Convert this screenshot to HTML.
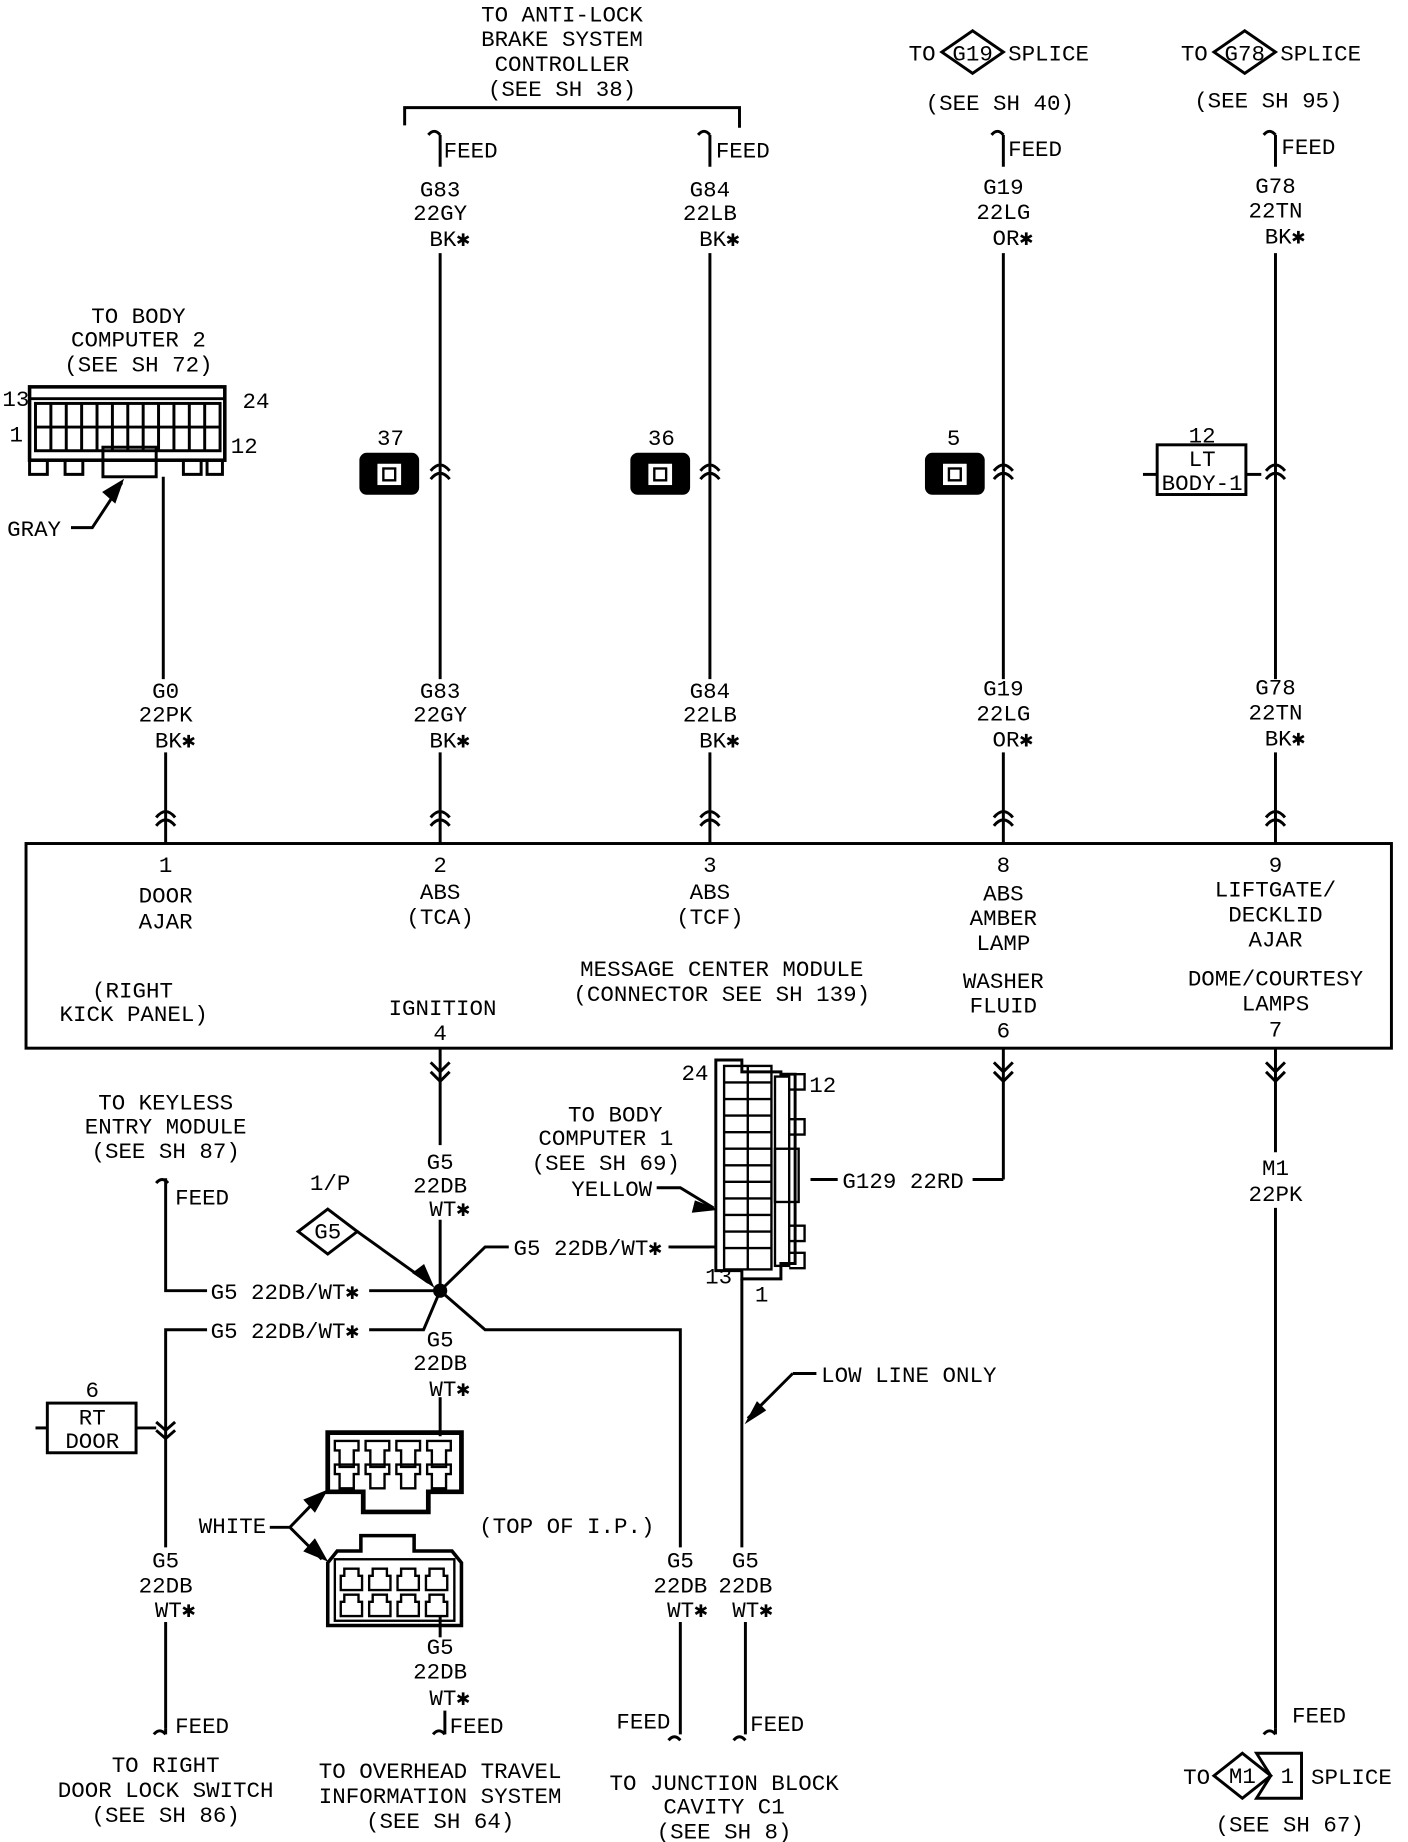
<!DOCTYPE html>
<html><head><style>
html,body{margin:0;padding:0;background:#fff;}
svg{display:block;}
text{font-family:"Liberation Mono",monospace;font-size:19px;fill:#000;}
</style></head><body>
<svg width="1408" height="1842" viewBox="0 0 1190 1557" preserveAspectRatio="none" xmlns="http://www.w3.org/2000/svg">
<g transform="translate(0,-4)">
<g fill="none" stroke="#000" stroke-width="2.5">
<polyline points="342,110 342,95 625,95 625,112"/>
<path d="M362,118 q5,-6 10,0 M372,118 V145"/>
<path d="M590,118 q5,-6 10,0 M600,118 V145"/>
<path d="M838,118 q5,-6 10,0 M848,118 V145"/>
<path d="M1068,118 q5,-6 10,0 M1078,118 V145"/>
<line x1="372" y1="218" x2="372" y2="578"/>
<line x1="600" y1="218" x2="600" y2="578"/>
<line x1="848" y1="218" x2="848" y2="578"/>
<line x1="1078" y1="218" x2="1078" y2="578"/>
<line x1="138" y1="407" x2="138" y2="578"/>
<line x1="140" y1="640" x2="140" y2="717"/>
<line x1="372" y1="640" x2="372" y2="717"/>
<line x1="600" y1="640" x2="600" y2="717"/>
<line x1="848" y1="640" x2="848" y2="717"/>
<line x1="1078" y1="640" x2="1078" y2="717"/>
<path d="M364,402 Q372,392 380,402 M364,409 Q372,399 380,409"/>
<path d="M592,402 Q600,392 608,402 M592,409 Q600,399 608,409"/>
<path d="M840,402 Q848,392 856,402 M840,409 Q848,399 856,409"/>
<path d="M1070,402 Q1078,392 1086,402 M1070,409 Q1078,399 1086,409"/>
<path d="M132,695 Q140,685 148,695 M132,702 Q140,692 148,702"/>
<path d="M364,695 Q372,685 380,695 M364,702 Q372,692 380,702"/>
<path d="M592,695 Q600,685 608,695 M592,702 Q600,692 608,702"/>
<path d="M840,695 Q848,685 856,695 M840,702 Q848,692 856,702"/>
<path d="M1070,695 Q1078,685 1086,695 M1070,702 Q1078,692 1086,702"/>
<polygon points="796,48 822,30 848,48 822,66"/>
<polygon points="1026,48 1052,30 1078,48 1052,66"/>
<rect x="22" y="717" width="1154" height="173"/>
<rect x="25" y="331" width="165" height="62" stroke-width="3"/>
<line x1="25" y1="341" x2="190" y2="341"/>
<rect x="30" y="345" width="156" height="40"/>
<line x1="30" y1="365" x2="186" y2="365"/>
<path d="M43,345V385M56,345V385M69,345V385M82,345V385M95,345V385M108,345V385M121,345V385M134,345V385M147,345V385M160,345V385M173,345V385"/>
<path d="M25,393 V405 H40 V393 M55,393 V405 H70 V393 M155,393 V405 H170 V393 M175,393 V405 H188 V393"/>
<rect x="87" y="382" width="45" height="25"/>
<path d="M60,450 H78 L103,412"/>
<rect x="305" y="388" width="48" height="33" rx="5" fill="#000"/>
<rect x="534" y="388" width="48" height="33" rx="5" fill="#000"/>
<rect x="783" y="388" width="48" height="33" rx="5" fill="#000"/>
<rect x="978" y="380" width="75" height="42"/>
<line x1="966" y1="405" x2="978" y2="405"/>
<line x1="1053" y1="405" x2="1066" y2="405"/>
<line x1="372" y1="890" x2="372" y2="972"/>
<line x1="372" y1="1035" x2="372" y2="1095"/>
<path d="M364,902 L372,910 L380,902 M364,910 L372,918 L380,910"/>
<path d="M840,902 L848,910 L856,902 M840,910 L848,918 L856,910"/>
<path d="M1070,902 L1078,910 L1086,902 M1070,910 L1078,918 L1086,910"/>
<line x1="848" y1="890" x2="848" y2="1001"/>
<line x1="822" y1="1001" x2="848" y2="1001"/>
<line x1="685" y1="1001" x2="708" y2="1001"/>
<line x1="1078" y1="890" x2="1078" y2="978"/>
<line x1="1078" y1="1025" x2="1078" y2="1465"/>
<path d="M1068,1470 q5,-6 10,0 M1078,1465 V1470"/>
<path d="M372,1095 L410,1058 H430"/>
<path d="M567,1058 H600"/>
<path d="M372,1095 H312"/>
<path d="M372,1095 L358,1128 H312"/>
<path d="M372,1095 L410,1128 H575 V1312"/>
<line x1="575" y1="1375" x2="575" y2="1470"/>
<path d="M140,1000 V1095 H175"/>
<path d="M132,1004 q5,-6 10,0"/>
<path d="M175,1128 H140 V1312"/>
<line x1="140" y1="1375" x2="140" y2="1465"/>
<path d="M130,1470 q5,-6 10,0 M140,1465V1470"/>
<path d="M132,1206 L140,1213 L148,1206 M132,1213 L140,1220 L148,1213"/>
<rect x="40" y="1190" width="75" height="42"/>
<line x1="30" y1="1211" x2="40" y2="1211"/>
<line x1="115" y1="1211" x2="132" y2="1211"/>
<polygon points="252,1045 277,1026 302,1045 277,1064"/>
<line x1="302" y1="1045" x2="362" y2="1088"/>
<line x1="372" y1="1185" x2="372" y2="1218"/>
<path d="M277,1215 H390 V1265 H362 V1282 H307 V1265 H277 Z" stroke-width="4"/>
<path d="M283,1222h20v8h-4v14h-12v-14h-4z M309,1222h20v8h-4v14h-12v-14h-4z M335,1222h20v8h-4v14h-12v-14h-4z M361,1222h20v8h-4v14h-12v-14h-4z" stroke-width="2"/>
<path d="M283,1242h20v8h-4v12h-12v-12h-4z M309,1242h20v8h-4v12h-12v-12h-4z M335,1242h20v8h-4v12h-12v-12h-4z M361,1242h20v8h-4v12h-12v-12h-4z" stroke-width="2"/>
<path d="M277,1325 L285,1315 H305 V1302 H350 V1315 H382 L390,1325 V1378 H277 Z" stroke-width="3"/>
<rect x="283" y="1322" width="101" height="52" stroke-width="2"/>
<path d="M288,1348h18v-12h-3v-6h-12v6h-3z M312,1348h18v-12h-3v-6h-12v6h-3z M336,1348h18v-12h-3v-6h-12v6h-3z M360,1348h18v-12h-3v-6h-12v6h-3z" stroke-width="2"/>
<path d="M288,1370h18v-12h-3v-6h-12v6h-3z M312,1370h18v-12h-3v-6h-12v6h-3z M336,1370h18v-12h-3v-6h-12v6h-3z M360,1370h18v-12h-3v-6h-12v6h-3z" stroke-width="2"/>
<line x1="372" y1="1370" x2="372" y2="1388"/>
<path d="M366,1470 q5,-6 10,0 M376,1450V1470"/>
<path d="M228,1295 H245 L272,1267 M245,1295 L272,1322"/>
<path d="M605,900 H627 V910 H660 V912 H672 V1072 H660 V1085 H627 V1078 H605 Z"/>
<rect x="612" y="905" width="40" height="172" stroke-width="2"/>
<path d="M632,905V1077" stroke-width="2"/>
<path d="M612,919H652M612,933H652M612,947H652M612,961H652M612,975H652M612,989H652M612,1003H652M612,1017H652M612,1031H652M612,1045H652M612,1059H652" stroke-width="2"/>
<rect x="655" y="914" width="12" height="160" stroke-width="2"/>
<path d="M667,912H680V925H667 M667,950H680V963H667 M667,1040H680V1053H667 M667,1063H680V1076H667" stroke-width="2"/>
<rect x="655" y="975" width="20" height="45" stroke-width="2"/>
<path d="M555,1008 H575 L603,1025"/>
<line x1="565" y1="1058" x2="605" y2="1058"/>
<line x1="627" y1="1085" x2="627" y2="1312"/>
<line x1="630" y1="1375" x2="630" y2="1470"/>
<path d="M670,1165 H690 M670,1165 L632,1203"/>
<path d="M565,1475 q5,-6 10,0 M620,1475 q5,-6 10,0"/>
<polygon points="1026,1505 1050,1486 1074,1505 1050,1524"/>
<polyline points="1074,1505 1062,1486 1100,1486 1100,1524 1062,1524 1074,1505"/>
</g>
<g stroke="#000" stroke-width="2">
<polygon points="103,411 88,420 97,428" fill="#000"/>
<polygon points="365,1090 350,1080 358,1074" fill="#000"/>
<polygon points="275,1265 258,1272 266,1281" fill="#000"/>
<polygon points="275,1322 258,1315 266,1306" fill="#000"/>
<polygon points="604,1026 588,1020 586,1028" fill="#000"/>
<polygon points="632,1205 640,1190 646,1196" fill="#000"/>
</g>
<circle cx="372" cy="1095" r="6" fill="#000"/>
<g fill="#fff" stroke="none">
<rect x="319" y="396" width="20" height="18"/>
<rect x="548" y="396" width="20" height="18"/>
<rect x="797" y="396" width="20" height="18"/>
</g>
<g fill="none" stroke="#000" stroke-width="2">
<rect x="324" y="400" width="10" height="10"/>
<rect x="553" y="400" width="10" height="10"/>
<rect x="802" y="400" width="10" height="10"/>
</g>
<g text-anchor="middle">
<text x="475" y="22">TO ANTI-LOCK</text>
<text x="475" y="43">BRAKE SYSTEM</text>
<text x="475" y="64">CONTROLLER</text>
<text x="475" y="85">(SEE SH 38)</text>
<text x="845" y="97">(SEE SH 40)</text>
<text x="1072" y="95">(SEE SH 95)</text>
<text x="822" y="55" font-size="16">G19</text>
<text x="1052" y="55" font-size="16">G78</text>
<text x="372" y="170">G83</text><text x="372" y="190">22GY</text><text x="380" y="212">BK✱</text>
<text x="600" y="170">G84</text><text x="600" y="190">22LB</text><text x="608" y="212">BK✱</text>
<text x="848" y="168">G19</text><text x="848" y="189">22LG</text><text x="856" y="211">OR✱</text>
<text x="1078" y="167">G78</text><text x="1078" y="188">22TN</text><text x="1086" y="210">BK✱</text>
<text x="117" y="277">TO BODY</text>
<text x="117" y="297">COMPUTER 2</text>
<text x="117" y="318">(SEE SH 72)</text>
<text x="330" y="380">37</text><text x="559" y="380">36</text><text x="806" y="380">5</text>
<text x="1016" y="378">12</text><text x="1016" y="398">LT</text><text x="1016" y="418">BODY-1</text>
<text x="140" y="594">G0</text><text x="140" y="614">22PK</text><text x="148" y="636">BK✱</text>
<text x="372" y="594">G83</text><text x="372" y="614">22GY</text><text x="380" y="636">BK✱</text>
<text x="600" y="594">G84</text><text x="600" y="614">22LB</text><text x="608" y="636">BK✱</text>
<text x="848" y="592">G19</text><text x="848" y="613">22LG</text><text x="856" y="635">OR✱</text>
<text x="1078" y="591">G78</text><text x="1078" y="612">22TN</text><text x="1086" y="634">BK✱</text>
<text x="140" y="741">1</text><text x="140" y="767">DOOR</text><text x="140" y="789">AJAR</text>
<text x="112" y="847">(RIGHT</text><text x="113" y="867">KICK PANEL)</text>
<text x="372" y="741">2</text><text x="372" y="764">ABS</text><text x="372" y="785">(TCA)</text>
<text x="374" y="862">IGNITION</text><text x="372" y="883">4</text>
<text x="600" y="741">3</text><text x="600" y="764">ABS</text><text x="600" y="785">(TCF)</text>
<text x="610" y="829">MESSAGE CENTER MODULE</text><text x="610" y="850">(CONNECTOR SEE SH 139)</text>
<text x="848" y="741">8</text><text x="848" y="765">ABS</text><text x="848" y="786">AMBER</text><text x="848" y="807">LAMP</text>
<text x="848" y="839">WASHER</text><text x="848" y="860">FLUID</text><text x="848" y="881">6</text>
<text x="1078" y="741">9</text><text x="1078" y="762">LIFTGATE/</text><text x="1078" y="783">DECKLID</text><text x="1078" y="804">AJAR</text>
<text x="1078" y="837">DOME/COURTESY</text><text x="1078" y="858">LAMPS</text><text x="1078" y="880">7</text>
<text x="140" y="942">TO KEYLESS</text><text x="140" y="962">ENTRY MODULE</text><text x="140" y="983">(SEE SH 87)</text>
<text x="372" y="992">G5</text><text x="372" y="1012">22DB</text><text x="380" y="1032">WT✱</text>
<text x="279" y="1010">1/P</text>
<text x="277" y="1051" font-size="16">G5</text>
<text x="372" y="1142">G5</text><text x="372" y="1162">22DB</text><text x="380" y="1184">WT✱</text>
<text x="78" y="1185">6</text><text x="78" y="1208">RT</text><text x="78" y="1228">DOOR</text>
<text x="140" y="1329">G5</text><text x="140" y="1350">22DB</text><text x="148" y="1371">WT✱</text>
<text x="575" y="1329">G5</text><text x="575" y="1350">22DB</text><text x="581" y="1371">WT✱</text>
<text x="630" y="1329">G5</text><text x="630" y="1350">22DB</text><text x="636" y="1371">WT✱</text>
<text x="372" y="1402">G5</text><text x="372" y="1423">22DB</text><text x="380" y="1445">WT✱</text>
<text x="140" y="1502">TO RIGHT</text><text x="140" y="1523">DOOR LOCK SWITCH</text><text x="140" y="1544">(SEE SH 86)</text>
<text x="372" y="1507">TO OVERHEAD TRAVEL</text><text x="372" y="1528">INFORMATION SYSTEM</text><text x="372" y="1549">(SEE SH 64)</text>
<text x="612" y="1517">TO JUNCTION BLOCK</text><text x="612" y="1537">CAVITY C1</text><text x="612" y="1558">(SEE SH 8)</text>
<text x="520" y="952">TO BODY</text><text x="512" y="972">COMPUTER 1</text><text x="512" y="993">(SEE SH 69)</text><text x="517" y="1015">YELLOW</text>
<text x="1078" y="997">M1</text><text x="1078" y="1019">22PK</text>
<text x="1090" y="1552">(SEE SH 67)</text>
<text x="1050" y="1511" font-size="16">M1</text>
<text x="1088" y="1511">1</text>
</g>
<text x="768" y="55">TO</text><text x="852" y="55">SPLICE</text>
<text x="998" y="55">TO</text><text x="1082" y="55">SPLICE</text>
<text x="375" y="137">FEED</text><text x="605" y="137">FEED</text>
<text x="852" y="136">FEED</text><text x="1083" y="134">FEED</text>
<text x="2" y="347">13</text><text x="205" y="349">24</text>
<text x="8" y="377">1</text><text x="195" y="387">12</text>
<text x="6" y="457">GRAY</text>
<text x="148" y="1022">FEED</text>
<text x="178" y="1102">G5 22DB/WT✱</text>
<text x="178" y="1135">G5 22DB/WT✱</text>
<text x="434" y="1065">G5 22DB/WT✱</text>
<text x="712" y="1008">G129 22RD</text>
<text x="576" y="917">24</text><text x="684" y="927">12</text>
<text x="596" y="1089">13</text><text x="638" y="1104">1</text>
<text x="694" y="1172">LOW LINE ONLY</text>
<text x="168" y="1300">WHITE</text>
<text x="405" y="1300">(TOP OF I.P.)</text>
<text x="148" y="1469">FEED</text>
<text x="380" y="1469">FEED</text>
<text x="521" y="1465">FEED</text>
<text x="634" y="1467">FEED</text>
<text x="1092" y="1460">FEED</text>
<text x="1000" y="1512">TO</text><text x="1108" y="1512">SPLICE</text>
</g>
</svg>
</body></html>
